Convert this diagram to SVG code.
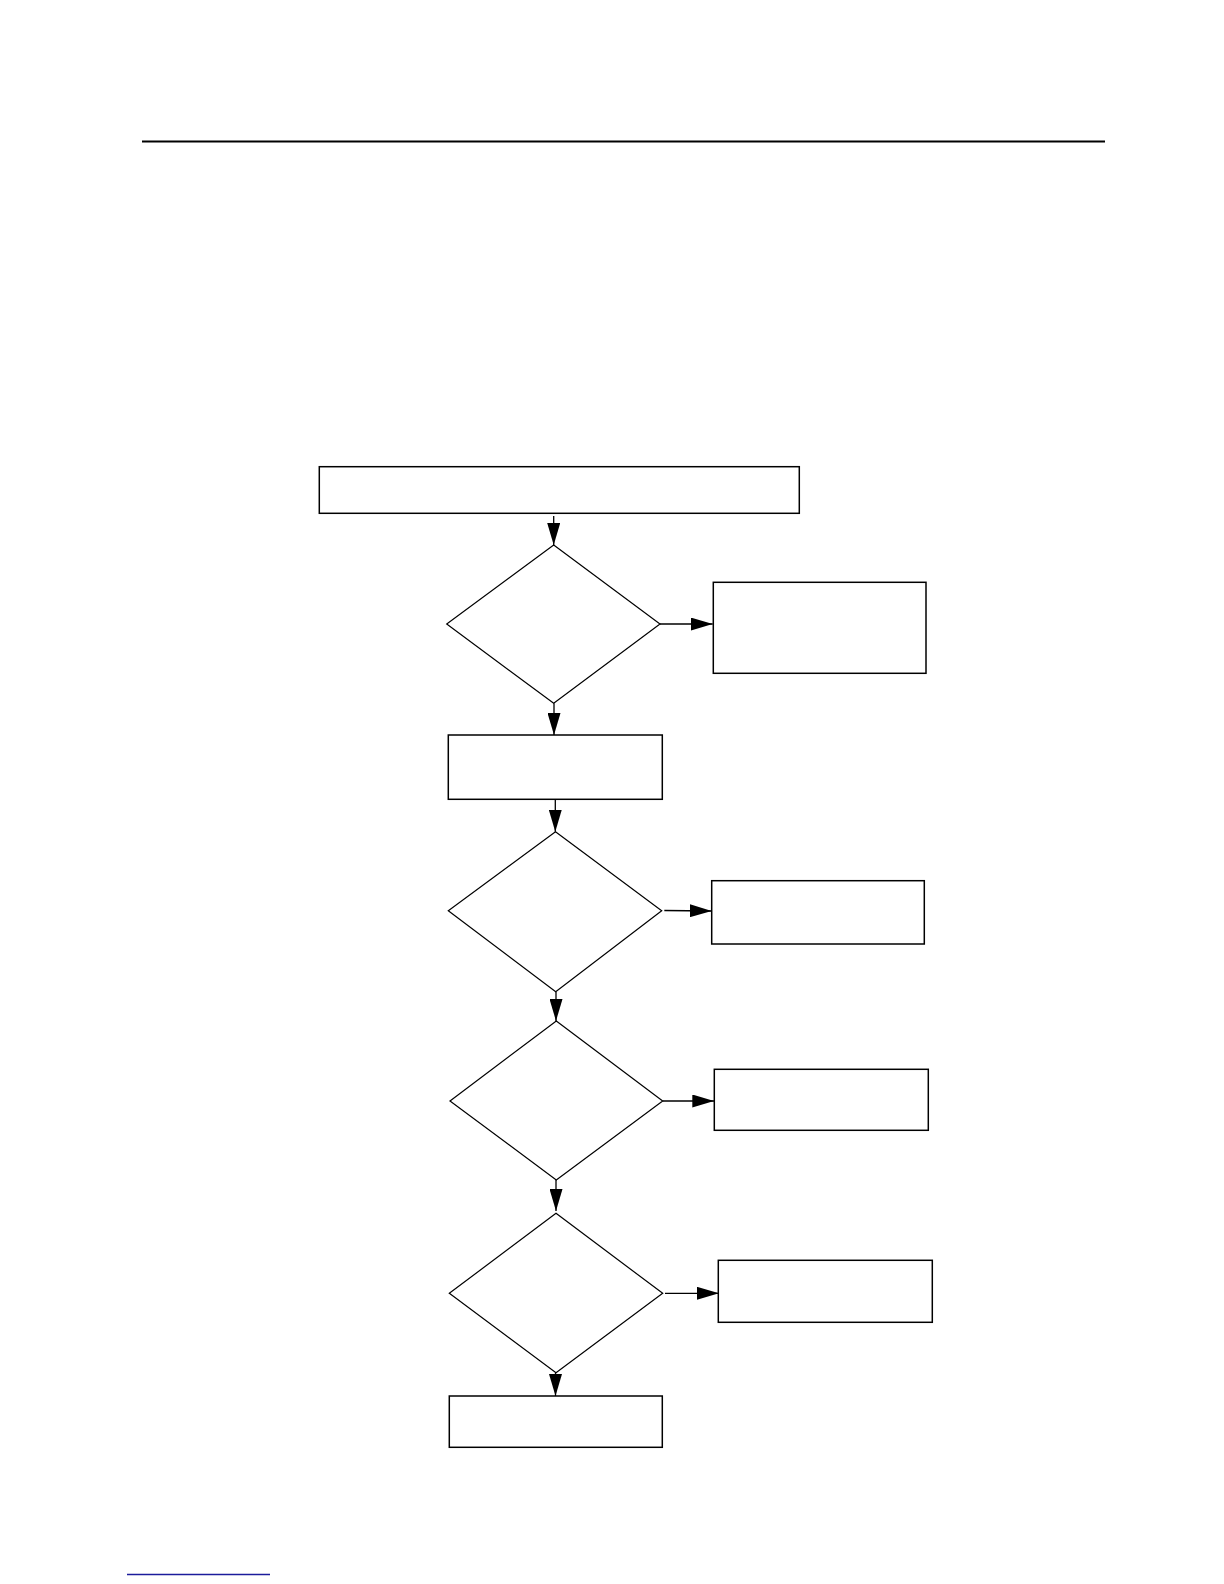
<svg xmlns="http://www.w3.org/2000/svg" width="1224" height="1584" viewBox="0 0 1224 1584">
<style>
.box{fill:#fff;stroke:#000;stroke-width:1.5}
.dia{fill:#fff;stroke:#000;stroke-width:1.2}
.con{stroke:#000;stroke-width:1.3;fill:none}
</style>
<defs>
<marker id="ah" markerWidth="22" markerHeight="13" refX="22" refY="6.5" orient="auto" markerUnits="userSpaceOnUse">
<path d="M0,0 L22,6.5 L0,13 Z" fill="#000"/>
</marker>
</defs>
<rect width="1224" height="1584" fill="#fff"/>
<line x1="142" y1="141.5" x2="1105" y2="141.5" stroke="#000" stroke-width="2"/>
<line x1="127" y1="1574.5" x2="270" y2="1574.5" stroke="#1c1c9c" stroke-width="1.3"/>
<g id="n1"><rect class="box" x="319.3" y="466.7" width="480" height="46.6"/></g>
<g id="d1"><polygon class="dia" points="553.7,545 660,624 553.7,703.3 446.7,624"/></g>
<g id="r1"><rect class="box" x="713.3" y="582.3" width="212.7" height="91"/></g>
<g id="n2"><rect class="box" x="448.3" y="735" width="214" height="64.3"/></g>
<g id="d2"><polygon class="dia" points="555.5,831.7 661.7,910.7 555.7,991.7 448.3,910.7"/></g>
<g id="r2"><rect class="box" x="711.7" y="880.7" width="212.6" height="63.3"/></g>
<g id="d3"><polygon class="dia" points="556.3,1021 662.7,1101 556.3,1180 450,1101"/></g>
<g id="r3"><rect class="box" x="714.3" y="1069.3" width="214" height="61"/></g>
<g id="d4"><polygon class="dia" points="556,1213.3 662.7,1293.3 556,1372.7 449.3,1293.3"/></g>
<g id="r4"><rect class="box" x="718.3" y="1260.3" width="214" height="62"/></g>
<g id="n3"><rect class="box" x="449.3" y="1396" width="213" height="51.3"/></g>
<g id="connectors">
<line class="con" x1="553.7" y1="516" x2="553.7" y2="545" marker-end="url(#ah)"/>
<line class="con" x1="660" y1="624" x2="712.7" y2="624" marker-end="url(#ah)"/>
<line class="con" x1="554" y1="703.3" x2="554" y2="735" marker-end="url(#ah)"/>
<line class="con" x1="555.3" y1="799.3" x2="555.3" y2="831.7" marker-end="url(#ah)"/>
<line class="con" x1="664.3" y1="910.5" x2="711.7" y2="911" marker-end="url(#ah)"/>
<line class="con" x1="556" y1="991.7" x2="556" y2="1021" marker-end="url(#ah)"/>
<line class="con" x1="662.7" y1="1101" x2="714.3" y2="1101" marker-end="url(#ah)"/>
<line class="con" x1="556" y1="1180" x2="556" y2="1211" marker-end="url(#ah)"/>
<line class="con" x1="665" y1="1293.3" x2="719" y2="1293.3" marker-end="url(#ah)"/>
<line class="con" x1="555.5" y1="1372.7" x2="555.5" y2="1396" marker-end="url(#ah)"/>
</g>
</svg>
